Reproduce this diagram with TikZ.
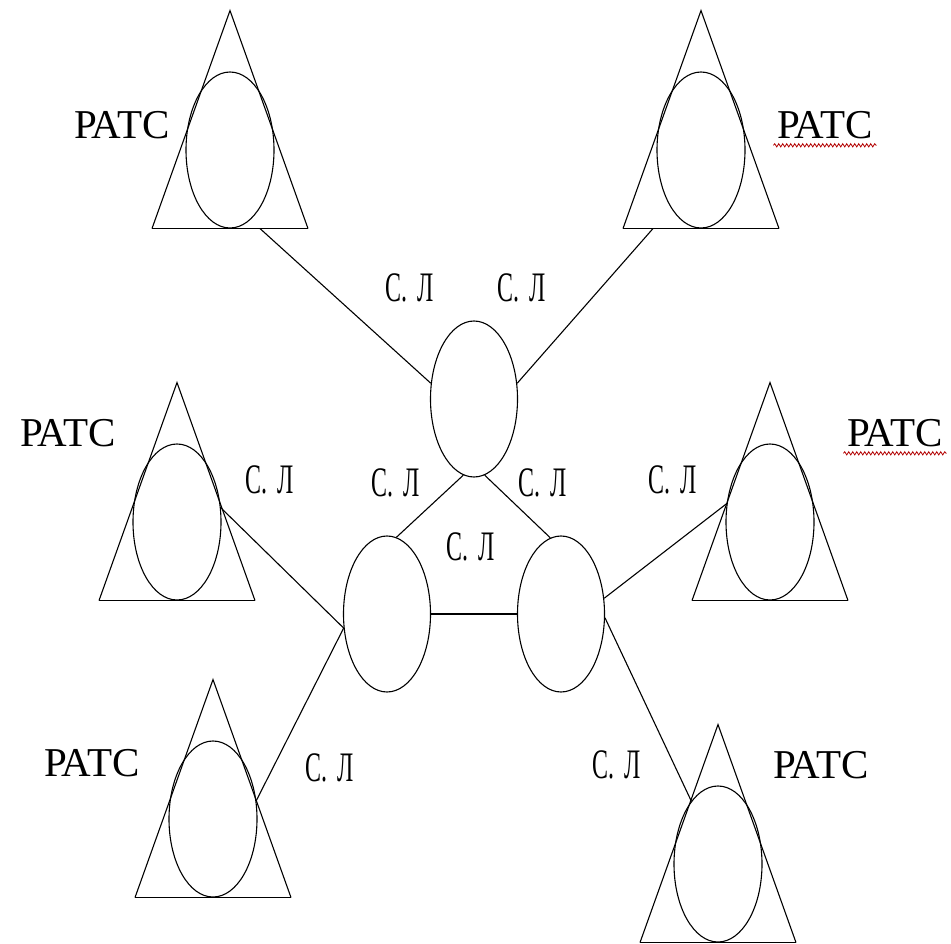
\documentclass[tikz,border=0pt]{standalone}
\usepackage{fontspec}
\setmainfont{Liberation Serif}
\newfontfamily\ratcfont{Liberation Serif}
\usepackage{graphicx}
\usetikzlibrary{shapes.geometric,decorations.pathmorphing}

\newcommand{\ratc}{РАТС}
\newcommand{\sline}{\scalebox{0.57}[1]{С.\ \,Л}}

\begin{document}
\begin{tikzpicture}[x=1pt,y=-1pt,
  station/.style={ellipse, draw, line width=1.1pt, minimum width=88pt, minimum height=156pt, inner sep=0pt},
  hub/.style={ellipse, draw, line width=1.1pt, minimum width=87pt, minimum height=156pt, inner sep=0pt},
  ratclabel/.style={font=\ratcfont\fontsize{41}{41}\selectfont},
  sllabel/.style={font=\ratcfont\fontsize{42}{42}\selectfont},
  conn/.style={line width=1.1pt},
  baseline/.style={line width=1.8pt},
  spell/.style={draw=red!70!black, line width=0.8pt, decorate, decoration={snake, segment length=4pt, amplitude=1.6pt}}]
\useasboundingbox (0,0) rectangle (951,944);

\node[station] (r1) at (230,150) {};
\node[station] (r2) at (701,150) {};
\node[station] (r3) at (177,522) {};
\node[station] (r4) at (770,522) {};
\node[station] (r5) at (213,819) {};
\node[station] (r6) at (718,864) {};

\node[hub] (c1) at (474,399) {};
\node[hub] (c2) at (387,614) {};
\node[hub] (c3) at (561,614) {};

\foreach \i in {1,...,6} {
  \draw[conn] ([xshift=-78pt]r\i.south) -- ([yshift=218pt]r\i.south) -- ([xshift=78pt]r\i.south);
  \draw[baseline] ([xshift=-78pt]r\i.south) -- ([xshift=78pt]r\i.south);
}

\node[ratclabel] (l1) at (122,125) {\ratc};
\node[ratclabel] (l2) at (825,125) {\ratc};
\node[ratclabel] (l3) at (68,433) {\ratc};
\node[ratclabel] (l4) at (895,433) {\ratc};
\node[ratclabel] (l5) at (92,763) {\ratc};
\node[ratclabel] (l6) at (821,765) {\ratc};

\draw[spell] ([yshift=-3pt]l2.south west) -- ([yshift=-3pt]l2.south east);
\draw[spell] ([yshift=-3pt]l4.south west) -- ([yshift=-3pt]l4.south east);

\node[sllabel] (s1) at (410,288) {\sline};
\node[sllabel] (s2) at (522,288) {\sline};
\node[sllabel] (s3) at (270,480) {\sline};
\node[sllabel] (s4) at (396,483) {\sline};
\node[sllabel] (s5) at (543,483) {\sline};
\node[sllabel] (s6) at (471,547) {\sline};
\node[sllabel] (s7) at (673,480) {\sline};
\node[sllabel] (s8) at (330,768) {\sline};
\node[sllabel] (s9) at (617,765) {\sline};

\draw[conn] ([xshift=30pt]r1.south) -- (c1.160);
\draw[conn] ([xshift=-48pt]r2.south) -- (c1.20);
\draw[conn] (c1.-98) -- (c2.83);
\draw[conn] (c1.-82) -- (c3.98);
\draw[baseline] (c2.east) -- (c3.west);
\draw[conn] (r3.18) -- (c2.198);
\draw[conn] (r4.157) -- (c3.20);
\draw[conn] (c2.198) -- (r5.23);
\draw[conn] (c3.-5) -- (r6.113);
\end{tikzpicture}
\end{document}
